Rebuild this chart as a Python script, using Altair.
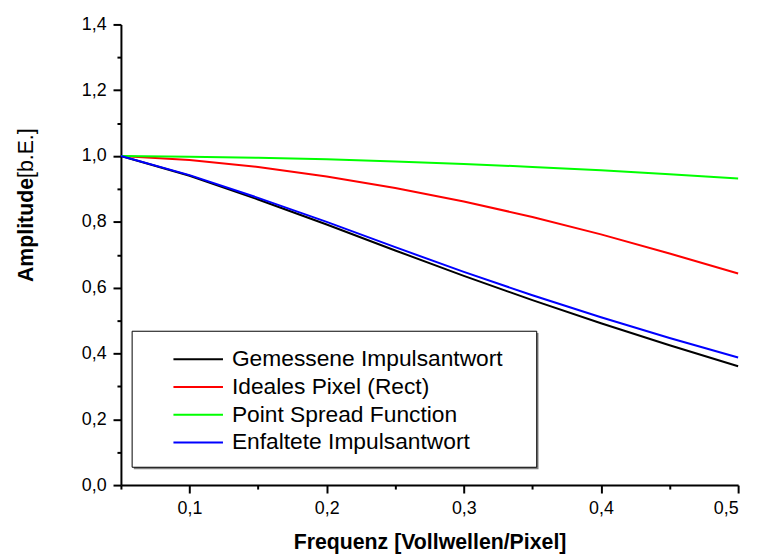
import altair as alt
import pandas as pd

# ---- data ----
freq = [0.05, 0.10, 0.15, 0.20, 0.25, 0.30, 0.35, 0.40, 0.45, 0.50]
gemessen = [1.000, 0.940, 0.868, 0.792, 0.713, 0.636, 0.562, 0.492, 0.425, 0.361]
ideal = [1.000, 0.988, 0.967, 0.938, 0.903, 0.862, 0.815, 0.762, 0.704, 0.643]
psf = [1.000, 0.998, 0.9945, 0.990, 0.9835, 0.976, 0.967, 0.957, 0.945, 0.932]
entfaltet = [1.000, 0.942, 0.873, 0.800, 0.723, 0.648, 0.577, 0.510, 0.447, 0.388]

names = ["Gemessene Impulsantwort", "Ideales Pixel (Rect)",
         "Point Spread Function", "Enfaltete Impulsantwort"]
colors = ["#000000", "#ff0000", "#00ff00", "#0000ff"]

x_major = [0.1, 0.2, 0.3, 0.4, 0.5]
x_minor = [0.05, 0.15, 0.25, 0.35, 0.45]
y_major = [0.0, 0.2, 0.4, 0.6, 0.8, 1.0, 1.2, 1.4]
y_minor = [0.1, 0.3, 0.5, 0.7, 0.9, 1.1, 1.3]

rows = []
for name, vals in zip(names, [gemessen, ideal, psf, entfaltet]):
    for f, v in zip(freq, vals):
        rows.append({"f": f, "a": v, "s": name})
df = pd.DataFrame(rows)

FONT = "Liberation Sans"
label_expr = "replace(format(datum.value, '.1f'), '.', ',')"
xscale = alt.Scale(domain=[0.05, 0.5], nice=False, zero=False)
yscale = alt.Scale(domain=[0.0, 1.4], nice=False, zero=False)

lines = alt.Chart(df).mark_line(strokeWidth=2).encode(
    x=alt.X("f:Q", scale=xscale, axis=alt.Axis(
        values=x_major, labelExpr=label_expr, tickSize=8, grid=False,
        labelFontSize=18, labelPadding=7, orient="bottom",
        title="Frequenz [Vollwellen/Pixel]", titleFontSize=21.5,
        titleFontWeight="bold", titleBaseline="alphabetic", titleY=64)),
    y=alt.Y("a:Q", scale=yscale, axis=alt.Axis(
        values=y_major, labelExpr=label_expr, tickSize=8, grid=False,
        labelFontSize=18, labelPadding=7, orient="left", title=None)),
    color=alt.Color("s:N", scale=alt.Scale(domain=names, range=colors),
                    legend=alt.Legend(
                        title=None, orient="none", legendX=52, legendY=324,
                        symbolType="stroke", symbolSize=2500, symbolStrokeWidth=2,
                        labelFontSize=23, labelFont=FONT, labelColor="black",
                        labelOffset=8, clipHeight=28, rowPadding=0, padding=0,
                        labelLimit=500)),
)

minor = alt.Chart(df).mark_line(opacity=0).encode(
    x=alt.X("f:Q", scale=xscale, axis=alt.Axis(
        values=x_minor, tickSize=4, labels=False, domain=False,
        grid=False, title=None, orient="bottom")),
    y=alt.Y("a:Q", scale=yscale, axis=alt.Axis(
        values=y_minor, tickSize=4, labels=False, domain=False,
        grid=False, title=None, orient="left")),
    detail="s:N",
)

one = pd.DataFrame({"k": [0]})
shadow = alt.Chart(one).mark_rect(fill="#808080").encode(
    x=alt.value(13), x2=alt.value(421.5), y=alt.value(311.5), y2=alt.value(449))
box = alt.Chart(one).mark_rect(fill="white", stroke="black", strokeWidth=1).encode(
    x=alt.value(11.3), x2=alt.value(419.7), y=alt.value(309.7), y2=alt.value(447))

yt1 = alt.Chart(one).mark_text(
    text="Amplitude", angle=270, align="left", baseline="alphabetic",
    font=FONT, fontSize=21.5, fontWeight="bold", color="black").encode(
    x=alt.value(-89), y=alt.value(260))
yt2 = alt.Chart(one).mark_text(
    text="[b.E.]", angle=270, align="left", baseline="alphabetic",
    font=FONT, fontSize=21.5, fontWeight="normal", color="black").encode(
    x=alt.value(-89), y=alt.value(155))

chart = alt.layer(minor, lines, shadow, box, yt1, yt2).resolve_axis(
    x="independent", y="independent"
).properties(
    width=623, height=465,
    autosize=alt.AutoSizeParams(type="none"),
    padding={"left": 114, "top": 14, "right": 13, "bottom": 70},
    background="white",
).configure(font=FONT).configure_view(strokeWidth=0).configure_axis(
    domainColor="black", domainWidth=2, tickColor="black", tickWidth=2,
    labelColor="black", titleColor="black", labelFont=FONT, titleFont=FONT,
)

chart.save("out.html", embed_options={"renderer": "svg", "actions": False})
